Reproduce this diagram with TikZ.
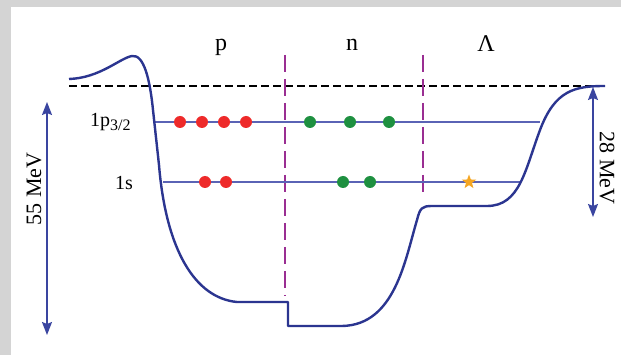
\documentclass[tikz,border=0pt]{standalone}
\usepackage{fontspec}
\setmainfont{Liberation Serif}
\usetikzlibrary{arrows.meta,shapes.geometric}
\definecolor{bggray}{HTML}{D4D4D4}
\definecolor{potblue}{HTML}{2B3590}
\definecolor{lvlblue}{HTML}{5A63B5}
\definecolor{arrblue}{HTML}{3A45A0}
\definecolor{dotred}{HTML}{EE2A2A}
\definecolor{dotgreen}{HTML}{1E9040}
\definecolor{divpurple}{HTML}{9A2E92}
\definecolor{starorange}{HTML}{F5A623}
\begin{document}
\begin{tikzpicture}[x=1pt,y=-1pt,
  pot/.style={potblue,line width=2.4pt,line join=round},
  lvl/.style={lvlblue,line width=1.2pt},
  zero/.style={black,line width=2.2pt,dash pattern=on 8pt off 4pt},
  divider/.style={divpurple,line width=1.8pt,dash pattern=on 17pt off 7pt},
  dotp/.style={circle,fill=dotred,minimum size=12pt,inner sep=0pt},
  dotn/.style={circle,fill=dotgreen,minimum size=12pt,inner sep=0pt},
  lam/.style={star,star points=5,star point ratio=2.4,fill=starorange,minimum size=15pt,inner sep=0pt},
  gap/.style={arrblue,line width=1.5pt,{Stealth[length=13pt,width=10pt,inset=2pt]}-{Stealth[length=13pt,width=10pt,inset=2pt]}},
  head/.style={font=\fontsize{24}{28}\selectfont,inner sep=0pt},
  lbl/.style={font=\fontsize{20}{24}\selectfont,inner sep=0pt},
  mev/.style={font=\fontsize{22}{26}\selectfont,inner sep=0pt}
]
\fill[bggray] (0,0) rectangle (621,355);
\fill[white] (11,7) rectangle (621,355);
\useasboundingbox (0,0) rectangle (621,355);

% zero line
\coordinate (z0) at (69,86);
\coordinate (z1) at (605,86);
\draw[zero] (z0) -- (z1);

% dividers
\coordinate (d1t) at (285,55);
\coordinate (d1b) at (285,296);
\coordinate (d2t) at (423,55);
\coordinate (d2b) at (423,198);
\draw[divider] (d1t) -- (d1b);
\draw[divider] (d2t) -- (d2b);

% levels
\coordinate (pl) at (155,122);
\coordinate (pr) at (540,122);
\coordinate (sl) at (163,182);
\coordinate (sr) at (520,182);
\draw[lvl] (pl) -- (pr);
\draw[lvl] (sl) -- (sr);

% potential
\draw[pot] (69,79) .. controls (100,78) and (120,58) .. (132,56)
  .. controls (144,54) and (150,80) .. (153,110)
  -- (159,165)
  .. controls (166,250) and (195,298) .. (237,302)
  -- (288,302) -- (288,326) -- (342,326)
  .. controls (395,325) and (405,260) .. (417,220)
  .. controls (420,208) and (422,206) .. (432,206)
  -- (487,206)
  .. controls (520,206) and (525,170) .. (540,130)
  .. controls (555,90) and (575,86) .. (605,86);

% particles
\node[dotp] (p1) at (180,122) {};
\node[dotp] (p2) at (202,122) {};
\node[dotp] (p3) at (224,122) {};
\node[dotp] (p4) at (246,122) {};
\node[dotn] (n1) at (310,122) {};
\node[dotn] (n2) at (350,122) {};
\node[dotn] (n3) at (389,122) {};
\node[dotp] (p5) at (205,182) {};
\node[dotp] (p6) at (226,182) {};
\node[dotn] (n4) at (343,182) {};
\node[dotn] (n5) at (370,182) {};
\node[lam] (l1) at (469,182) {};

% headings
\node[head] (hp) at (221,47) {p};
\node[head] (hn) at (352,45) {n};
\node[head] (hl) at (486,44) {Λ};

% level labels
\node[lbl,anchor=west] (lp) at (90,122) {1p\raisebox{-0.45ex}{\fontsize{16}{19}\selectfont 3/2}};
\node[lbl] (ls) at (124,183) {1s};

% arrows
\coordinate (a1t) at (47,102);
\coordinate (a1b) at (47,335);
\draw[gap] (a1b) -- (a1t);
\node[mev,rotate=90] (m55) at (34,189) {55 MeV};
\coordinate (a2t) at (593,87);
\coordinate (a2b) at (593,217);
\draw[gap] (a2t) -- (a2b);
\node[mev,rotate=-90] (m28) at (607,168) {28 MeV};
\end{tikzpicture}
\end{document}
